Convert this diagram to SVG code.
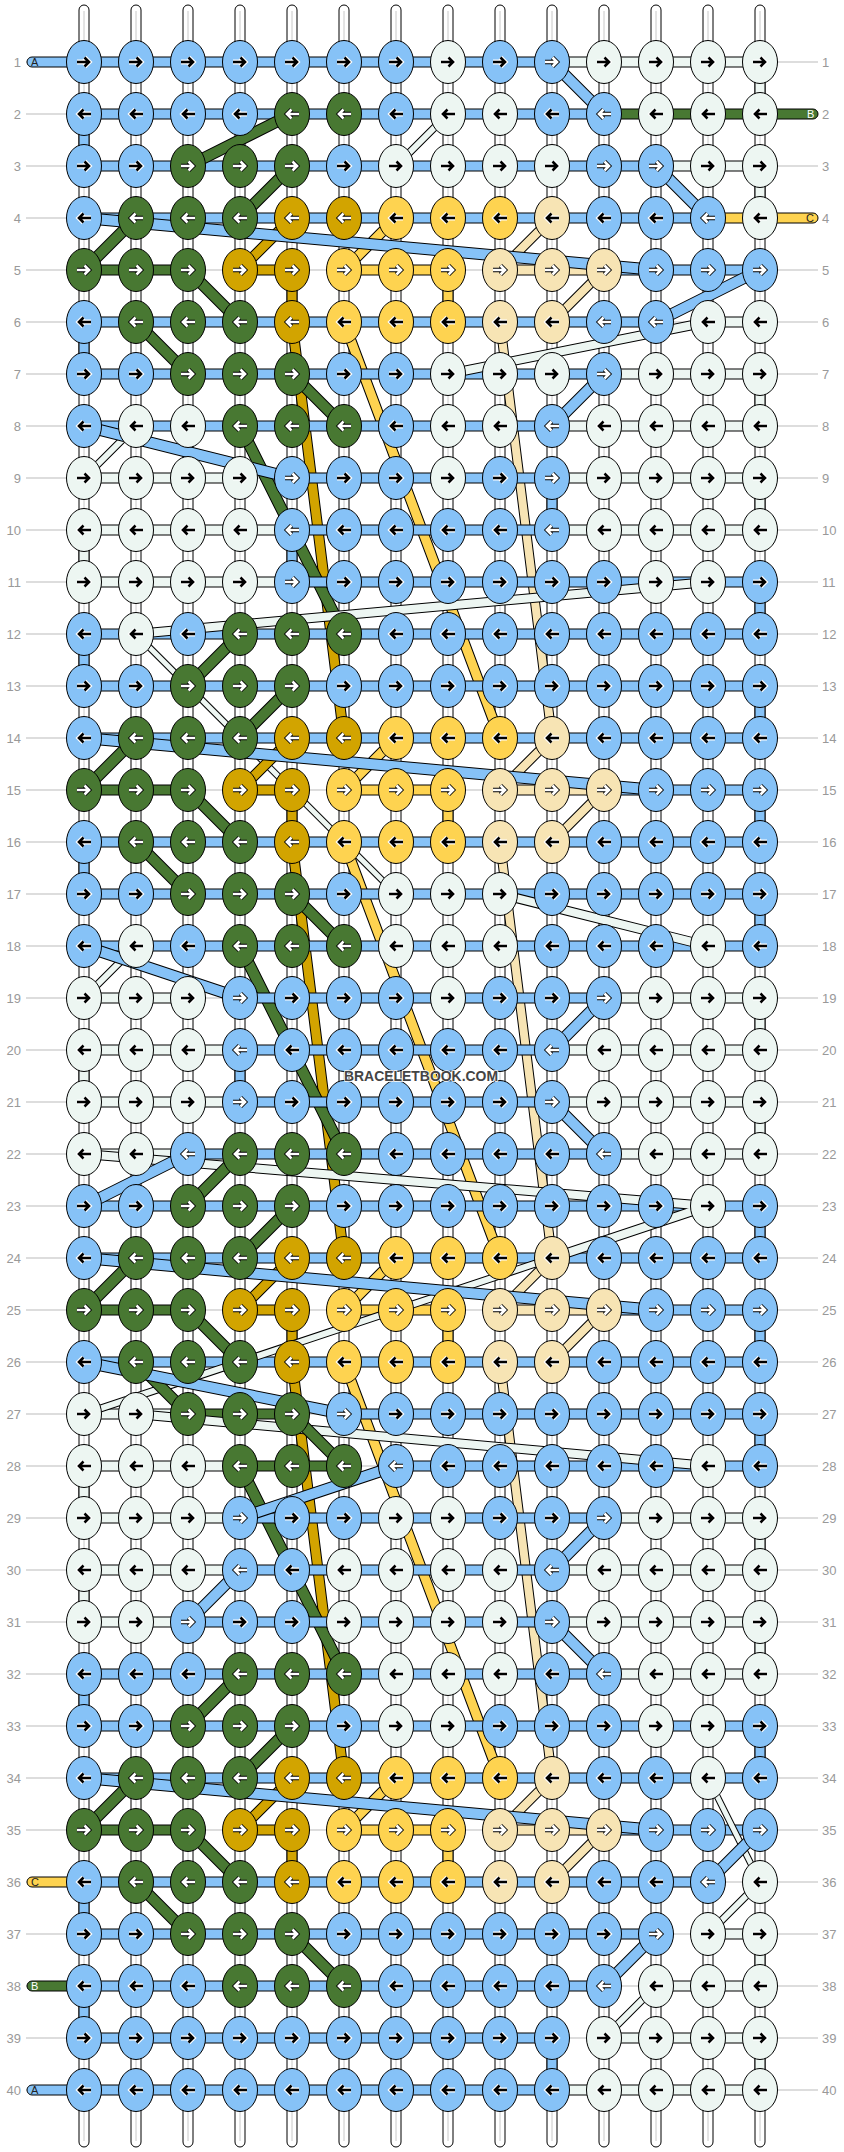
<svg xmlns="http://www.w3.org/2000/svg" width="844" height="2152" viewBox="0 0 844 2152">
<style>
.num{font-family:"Liberation Sans",Arial,sans-serif;font-size:13px;fill:#999}
.lab{font-family:"Liberation Sans",Arial,sans-serif;font-size:11px}
.cb{fill:#86c2f7}.cw{fill:#edf6f2}.cg{fill:#487832}.cd{fill:#d2a400}.cy{fill:#fed350}.cl{fill:#f7e4b4}
.o{fill:none;stroke:#000;stroke-linecap:butt}
.s{fill:none;stroke-linecap:butt}
</style>
<defs>
<ellipse id="e" rx="17.5" ry="21.5" stroke="#000" stroke-width="1"/>
<path id="a" d="M-7,0H5M0.5,-4.5L5,0L0.5,4.5" fill="none"/>
<g id="ak"><use href="#a" stroke="#fff" stroke-width="5"/><use href="#a" stroke="#000" stroke-width="2.6"/></g>
<g id="aw"><use href="#a" stroke="#000" stroke-width="4.4"/><use href="#a" stroke="#fff" stroke-width="2.7"/></g>
<g id="bR"><use href="#e" fill="#86c2f7"/><use href="#ak"/></g>
<g id="bL"><use href="#e" fill="#86c2f7"/><use href="#ak" transform="scale(-1,1)"/></g>
<g id="bRw"><use href="#e" fill="#86c2f7"/><use href="#aw"/></g>
<g id="bLw"><use href="#e" fill="#86c2f7"/><use href="#aw" transform="scale(-1,1)"/></g>
<g id="gR"><use href="#e" fill="#487832"/><use href="#aw"/></g>
<g id="gL"><use href="#e" fill="#487832"/><use href="#aw" transform="scale(-1,1)"/></g>
<g id="dR"><use href="#e" fill="#d2a400"/><use href="#aw"/></g>
<g id="dL"><use href="#e" fill="#d2a400"/><use href="#aw" transform="scale(-1,1)"/></g>
<g id="yRw"><use href="#e" fill="#fed350"/><use href="#aw"/></g>
<g id="yL"><use href="#e" fill="#fed350"/><use href="#ak" transform="scale(-1,1)"/></g>
<g id="lRw"><use href="#e" fill="#f7e4b4"/><use href="#aw"/></g>
<g id="lL"><use href="#e" fill="#f7e4b4"/><use href="#ak" transform="scale(-1,1)"/></g>
<g id="wR"><use href="#e" fill="#edf6f2"/><use href="#ak"/></g>
<g id="wL"><use href="#e" fill="#edf6f2"/><use href="#ak" transform="scale(-1,1)"/></g>
</defs>
<rect width="844" height="2152" fill="#fff"/>
<g id="rowlines" fill="none" stroke="#bbb" stroke-width="1">
<path d="M26 62H818M26 114H818M26 166H818M26 218H818M26 270H818M26 322H818M26 374H818M26 426H818M26 478H818M26 530H818M26 582H818M26 634H818M26 686H818M26 738H818M26 790H818M26 842H818M26 894H818M26 946H818M26 998H818M26 1050H818M26 1102H818M26 1154H818M26 1206H818M26 1258H818M26 1310H818M26 1362H818M26 1414H818M26 1466H818M26 1518H818M26 1570H818M26 1622H818M26 1674H818M26 1726H818M26 1778H818M26 1830H818M26 1882H818M26 1934H818M26 1986H818M26 2038H818M26 2090H818"/>
</g>
<g id="rownumbers" class="num">
<g text-anchor="end">
<text x="21" y="67">1</text><text x="21" y="119">2</text><text x="21" y="171">3</text><text x="21" y="223">4</text><text x="21" y="275">5</text><text x="21" y="327">6</text><text x="21" y="379">7</text><text x="21" y="431">8</text><text x="21" y="483">9</text><text x="21" y="535">10</text><text x="21" y="587">11</text><text x="21" y="639">12</text><text x="21" y="691">13</text><text x="21" y="743">14</text><text x="21" y="795">15</text><text x="21" y="847">16</text><text x="21" y="899">17</text><text x="21" y="951">18</text><text x="21" y="1003">19</text><text x="21" y="1055">20</text><text x="21" y="1107">21</text><text x="21" y="1159">22</text><text x="21" y="1211">23</text><text x="21" y="1263">24</text><text x="21" y="1315">25</text><text x="21" y="1367">26</text><text x="21" y="1419">27</text><text x="21" y="1471">28</text><text x="21" y="1523">29</text><text x="21" y="1575">30</text><text x="21" y="1627">31</text><text x="21" y="1679">32</text><text x="21" y="1731">33</text><text x="21" y="1783">34</text><text x="21" y="1835">35</text><text x="21" y="1887">36</text><text x="21" y="1939">37</text><text x="21" y="1991">38</text><text x="21" y="2043">39</text><text x="21" y="2095">40</text>
</g>
<g>
<text x="822" y="67">1</text><text x="822" y="119">2</text><text x="822" y="171">3</text><text x="822" y="223">4</text><text x="822" y="275">5</text><text x="822" y="327">6</text><text x="822" y="379">7</text><text x="822" y="431">8</text><text x="822" y="483">9</text><text x="822" y="535">10</text><text x="822" y="587">11</text><text x="822" y="639">12</text><text x="822" y="691">13</text><text x="822" y="743">14</text><text x="822" y="795">15</text><text x="822" y="847">16</text><text x="822" y="899">17</text><text x="822" y="951">18</text><text x="822" y="1003">19</text><text x="822" y="1055">20</text><text x="822" y="1107">21</text><text x="822" y="1159">22</text><text x="822" y="1211">23</text><text x="822" y="1263">24</text><text x="822" y="1315">25</text><text x="822" y="1367">26</text><text x="822" y="1419">27</text><text x="822" y="1471">28</text><text x="822" y="1523">29</text><text x="822" y="1575">30</text><text x="822" y="1627">31</text><text x="822" y="1679">32</text><text x="822" y="1731">33</text><text x="822" y="1783">34</text><text x="822" y="1835">35</text><text x="822" y="1887">36</text><text x="822" y="1939">37</text><text x="822" y="1991">38</text><text x="822" y="2043">39</text><text x="822" y="2095">40</text>
</g>
</g>
<g id="warps">
<g fill="#fff" stroke="#000" stroke-width="1">
<rect x="79" y="5" width="10" height="2142" rx="5"/><rect x="131" y="5" width="10" height="2142" rx="5"/><rect x="183" y="5" width="10" height="2142" rx="5"/><rect x="235" y="5" width="10" height="2142" rx="5"/><rect x="287" y="5" width="10" height="2142" rx="5"/><rect x="339" y="5" width="10" height="2142" rx="5"/><rect x="391" y="5" width="10" height="2142" rx="5"/><rect x="443" y="5" width="10" height="2142" rx="5"/><rect x="495" y="5" width="10" height="2142" rx="5"/><rect x="547" y="5" width="10" height="2142" rx="5"/><rect x="599" y="5" width="10" height="2142" rx="5"/><rect x="651" y="5" width="10" height="2142" rx="5"/><rect x="703" y="5" width="10" height="2142" rx="5"/><rect x="755" y="5" width="10" height="2142" rx="5"/>
</g>
<path fill="none" stroke="#c8c8c8" stroke-width="1" d="M84 11V2141M136 11V2141M188 11V2141M240 11V2141M292 11V2141M344 11V2141M396 11V2141M448 11V2141M500 11V2141M552 11V2141M604 11V2141M656 11V2141M708 11V2141M760 11V2141"/>
</g>
<g id="connectors">
<g id="turns" stroke="#000" stroke-width="1">
<rect class="cb" x="79" y="132" width="10" height="16"/><rect class="cb" x="79" y="340" width="10" height="16"/><rect class="cb" x="547" y="496" width="10" height="16"/><rect class="cb" x="287" y="548" width="10" height="16"/><rect class="cb" x="755" y="600" width="10" height="16"/><rect class="cb" x="79" y="652" width="10" height="16"/><rect class="cb" x="755" y="704" width="10" height="16"/><rect class="cb" x="755" y="808" width="10" height="16"/><rect class="cb" x="79" y="860" width="10" height="16"/><rect class="cb" x="755" y="912" width="10" height="16"/><rect class="cb" x="235" y="1068" width="10" height="16"/><rect class="cb" x="755" y="1224" width="10" height="16"/><rect class="cb" x="755" y="1328" width="10" height="16"/><rect class="cb" x="755" y="1432" width="10" height="16"/><rect class="cb" x="79" y="1692" width="10" height="16"/><rect class="cb" x="755" y="1744" width="10" height="16"/><rect class="cb" x="79" y="1900" width="10" height="16"/><rect class="cb" x="79" y="2004" width="10" height="16"/><rect class="cb" x="547" y="2056" width="10" height="16"/>
<rect class="cd" x="287" y="288" width="10" height="16"/><rect class="cd" x="287" y="808" width="10" height="16"/><rect class="cd" x="287" y="1328" width="10" height="16"/><rect class="cd" x="287" y="1848" width="10" height="16"/>
<rect class="cy" x="443" y="288" width="10" height="16"/><rect class="cy" x="443" y="808" width="10" height="16"/><rect class="cy" x="443" y="1328" width="10" height="16"/><rect class="cy" x="443" y="1848" width="10" height="16"/>
<rect class="cw" x="755" y="80" width="10" height="16"/><rect class="cw" x="755" y="184" width="10" height="16"/><rect class="cw" x="755" y="392" width="10" height="16"/><rect class="cw" x="755" y="496" width="10" height="16"/><rect class="cw" x="79" y="548" width="10" height="16"/><rect class="cw" x="755" y="1016" width="10" height="16"/><rect class="cw" x="79" y="1068" width="10" height="16"/><rect class="cw" x="755" y="1120" width="10" height="16"/><rect class="cw" x="79" y="1484" width="10" height="16"/><rect class="cw" x="755" y="1536" width="10" height="16"/><rect class="cw" x="79" y="1588" width="10" height="16"/><rect class="cw" x="755" y="1640" width="10" height="16"/><rect class="cw" x="755" y="1952" width="10" height="16"/><rect class="cw" x="755" y="2056" width="10" height="16"/>
</g>
<g id="long-strands">
<path class="o" stroke-width="11" d="M292 322L344 738M292 842L344 1258M292 1362L344 1778"/>
<path class="s" stroke="#d2a400" stroke-width="9" d="M292 322L344 738M292 842L344 1258M292 1362L344 1778"/>
<path class="o" stroke-width="11" d="M344 322L500 738M344 842L500 1258M344 1362L500 1778"/>
<path class="s" stroke="#fed350" stroke-width="9" d="M344 322L500 738M344 842L500 1258M344 1362L500 1778"/>
<path class="o" stroke-width="10" d="M500 322L552 738M500 842L552 1258M500 1362L552 1778"/>
<path class="s" stroke="#f7e4b4" stroke-width="8" d="M500 322L552 738M500 842L552 1258M500 1362L552 1778"/>
<path class="o" stroke-width="7" d="M136 634L396 894"/>
<path class="s" stroke="#edf6f2" stroke-width="5" d="M136 634L396 894"/>
<path class="o" stroke-width="12" d="M240 426L344 634M240 946L344 1154M240 1466L344 1674"/>
<path class="s" stroke="#487832" stroke-width="10" d="M240 426L344 634M240 946L344 1154M240 1466L344 1674"/>
</g>
<g id="wefts" stroke="#000" stroke-width="1">
<rect class="cb" x="84" y="57" width="468" height="10"/><rect class="cw" x="552" y="57" width="208" height="10"/>
<rect class="cb" x="84" y="109" width="520" height="10"/><rect class="cg" x="604" y="109" width="156" height="10"/>
<rect class="cb" x="84" y="161" width="572" height="10"/><rect class="cw" x="656" y="161" width="104" height="10"/>
<rect class="cb" x="84" y="213" width="624" height="10"/><rect class="cy" x="708" y="213" width="52" height="10"/>
<rect class="cg" x="84" y="265" width="104" height="10"/><rect class="cd" x="240" y="265" width="52" height="10"/><rect class="cy" x="344" y="265" width="104" height="10"/><rect class="cl" x="500" y="265" width="104" height="10"/><rect class="cb" x="604" y="265" width="156" height="10"/>
<rect class="cb" x="84" y="317" width="572" height="10"/><rect class="cw" x="708" y="317" width="52" height="10"/>
<rect class="cb" x="84" y="369" width="520" height="10"/><rect class="cw" x="604" y="369" width="156" height="10"/>
<rect class="cb" x="84" y="421" width="468" height="10"/><rect class="cw" x="552" y="421" width="208" height="10"/>
<rect class="cw" x="84" y="473" width="156" height="10"/><rect class="cb" x="292" y="473" width="260" height="10"/><rect class="cw" x="552" y="473" width="208" height="10"/>
<rect class="cw" x="84" y="525" width="208" height="10"/><rect class="cb" x="292" y="525" width="260" height="10"/><rect class="cw" x="552" y="525" width="208" height="10"/>
<rect class="cw" x="84" y="577" width="208" height="10"/><rect class="cb" x="292" y="577" width="468" height="10"/>
<rect class="cb" x="84" y="629" width="676" height="10"/>
<rect class="cb" x="84" y="681" width="676" height="10"/>
<rect class="cb" x="84" y="733" width="676" height="10"/>
<rect class="cg" x="84" y="785" width="104" height="10"/><rect class="cd" x="240" y="785" width="52" height="10"/><rect class="cy" x="344" y="785" width="104" height="10"/><rect class="cl" x="500" y="785" width="104" height="10"/><rect class="cb" x="604" y="785" width="156" height="10"/>
<rect class="cb" x="84" y="837" width="676" height="10"/>
<rect class="cb" x="84" y="889" width="676" height="10"/>
<rect class="cb" x="84" y="941" width="676" height="10"/>
<rect class="cw" x="84" y="993" width="104" height="10"/><rect class="cb" x="240" y="993" width="364" height="10"/><rect class="cw" x="604" y="993" width="156" height="10"/>
<rect class="cw" x="84" y="1045" width="156" height="10"/><rect class="cb" x="240" y="1045" width="312" height="10"/><rect class="cw" x="552" y="1045" width="208" height="10"/>
<rect class="cw" x="84" y="1097" width="156" height="10"/><rect class="cb" x="240" y="1097" width="312" height="10"/><rect class="cw" x="552" y="1097" width="208" height="10"/>
<rect class="cw" x="84" y="1149" width="104" height="10"/><rect class="cb" x="188" y="1149" width="416" height="10"/><rect class="cw" x="604" y="1149" width="156" height="10"/>
<rect class="cb" x="84" y="1201" width="676" height="10"/>
<rect class="cb" x="84" y="1253" width="676" height="10"/>
<rect class="cg" x="84" y="1305" width="104" height="10"/><rect class="cd" x="240" y="1305" width="52" height="10"/><rect class="cy" x="344" y="1305" width="104" height="10"/><rect class="cl" x="500" y="1305" width="104" height="10"/><rect class="cb" x="604" y="1305" width="156" height="10"/>
<rect class="cb" x="84" y="1357" width="676" height="10"/>
<rect class="cw" x="84" y="1409" width="104" height="10"/><rect class="cg" x="188" y="1409" width="104" height="10"/><rect class="cb" x="344" y="1409" width="416" height="10"/>
<rect class="cw" x="84" y="1461" width="156" height="10"/><rect class="cg" x="240" y="1461" width="104" height="10"/><rect class="cb" x="396" y="1461" width="364" height="10"/>
<rect class="cw" x="84" y="1513" width="156" height="10"/><rect class="cb" x="240" y="1513" width="364" height="10"/><rect class="cw" x="604" y="1513" width="156" height="10"/>
<rect class="cw" x="84" y="1565" width="156" height="10"/><rect class="cb" x="240" y="1565" width="312" height="10"/><rect class="cw" x="552" y="1565" width="208" height="10"/>
<rect class="cw" x="84" y="1617" width="104" height="10"/><rect class="cb" x="188" y="1617" width="364" height="10"/><rect class="cw" x="552" y="1617" width="208" height="10"/>
<rect class="cb" x="84" y="1669" width="520" height="10"/><rect class="cw" x="604" y="1669" width="156" height="10"/>
<rect class="cb" x="84" y="1721" width="676" height="10"/>
<rect class="cb" x="84" y="1773" width="676" height="10"/>
<rect class="cg" x="84" y="1825" width="104" height="10"/><rect class="cd" x="240" y="1825" width="52" height="10"/><rect class="cy" x="344" y="1825" width="104" height="10"/><rect class="cl" x="500" y="1825" width="104" height="10"/><rect class="cb" x="604" y="1825" width="156" height="10"/>
<rect class="cb" x="84" y="1877" width="624" height="10"/>
<rect class="cb" x="84" y="1929" width="572" height="10"/><rect class="cw" x="708" y="1929" width="52" height="10"/>
<rect class="cb" x="84" y="1981" width="520" height="10"/><rect class="cw" x="656" y="1981" width="104" height="10"/>
<rect class="cb" x="84" y="2033" width="468" height="10"/><rect class="cw" x="604" y="2033" width="156" height="10"/>
<rect class="cb" x="84" y="2085" width="468" height="10"/><rect class="cw" x="552" y="2085" width="208" height="10"/>
</g>
<g id="diagonals">
<path class="o" stroke-width="10" d="M708 322L448 374M708 582L136 634M500 894L708 946M84 1154L708 1206M708 1206L552 1258M136 1414L708 1466"/>
<path class="s" stroke="#edf6f2" stroke-width="8" d="M708 322L448 374M708 582L136 634M500 894L708 946M84 1154L708 1206M708 1206L552 1258M136 1414L708 1466"/>
<path class="o" stroke-width="8" d="M448 114L396 166M136 426L84 478M136 946L84 998M552 1258L84 1414M760 1882L708 1934M656 1986L604 2038"/>
<path class="s" stroke="#edf6f2" stroke-width="6" d="M448 114L396 166M136 426L84 478M136 946L84 998M552 1258L84 1414M760 1882L708 1934M656 1986L604 2038"/>
<path class="o" stroke-width="7" d="M708 1778L760 1882"/>
<path class="s" stroke="#edf6f2" stroke-width="5" d="M708 1778L760 1882"/>
<path class="o" stroke-width="11" d="M240 270L292 218M240 790L292 738M240 1310L292 1258M240 1830L292 1778"/>
<path class="s" stroke="#d2a400" stroke-width="9" d="M240 270L292 218M240 790L292 738M240 1310L292 1258M240 1830L292 1778"/>
<path class="o" stroke-width="11" d="M344 270L396 218M344 790L396 738M344 1310L396 1258M344 1830L396 1778"/>
<path class="s" stroke="#fed350" stroke-width="9" d="M344 270L396 218M344 790L396 738M344 1310L396 1258M344 1830L396 1778"/>
<path class="o" stroke-width="10" d="M500 270L552 218M604 270L552 322M500 790L552 738M604 790L552 842M500 1310L552 1258M604 1310L552 1362M500 1830L552 1778M604 1830L552 1882"/>
<path class="s" stroke="#f7e4b4" stroke-width="8" d="M500 270L552 218M604 270L552 322M500 790L552 738M604 790L552 842M500 1310L552 1258M604 1310L552 1362M500 1830L552 1778M604 1830L552 1882"/>
<path class="o" stroke-width="12" d="M188 166L292 114M240 218L292 166M84 270L136 218M188 270L240 322M136 322L188 374M292 374L344 426M188 686L240 634M240 738L292 686M84 790L136 738M188 790L240 842M136 842L188 894M292 894L344 946M188 1206L240 1154M240 1258L292 1206M84 1310L136 1258M188 1310L240 1362M136 1362L188 1414M292 1414L344 1466M188 1726L240 1674M240 1778L292 1726M84 1830L136 1778M188 1830L240 1882M136 1882L188 1934M292 1934L344 1986"/>
<path class="s" stroke="#487832" stroke-width="10" d="M188 166L292 114M240 218L292 166M84 270L136 218M188 270L240 322M136 322L188 374M292 374L344 426M188 686L240 634M240 738L292 686M84 790L136 738M188 790L240 842M136 842L188 894M292 894L344 946M188 1206L240 1154M240 1258L292 1206M84 1310L136 1258M188 1310L240 1362M136 1362L188 1414M292 1414L344 1466M188 1726L240 1674M240 1778L292 1726M84 1830L136 1778M188 1830L240 1882M136 1882L188 1934M292 1934L344 1986"/>
<path class="o" stroke-width="12" d="M552 62L604 114M656 166L708 218M84 218L656 270M760 270L656 322M604 374L552 426M84 426L292 478M84 738L656 790M84 946L240 998M604 998L552 1050M552 1102L604 1154M188 1154L84 1206M84 1258L656 1310M84 1362L344 1414M396 1466L240 1518M604 1518L552 1570M240 1570L188 1622M552 1622L604 1674M84 1778L656 1830M760 1830L708 1882M656 1934L604 1986"/>
<path class="s" stroke="#86c2f7" stroke-width="10" d="M552 62L604 114M656 166L708 218M84 218L656 270M760 270L656 322M604 374L552 426M84 426L292 478M84 738L656 790M84 946L240 998M604 998L552 1050M552 1102L604 1154M188 1154L84 1206M84 1258L656 1310M84 1362L344 1414M396 1466L240 1518M604 1518L552 1570M240 1570L188 1622M552 1622L604 1674M84 1778L656 1830M760 1830L708 1882M656 1934L604 1986"/>
</g>
<g id="string-ends" stroke="#000" stroke-width="1">
<rect class="cb" x="27" y="57" width="62" height="10" rx="5"/>
<rect class="cg" x="755" y="109" width="63" height="10" rx="5"/>
<rect class="cy" x="755" y="213" width="63" height="10" rx="5"/>
<rect class="cy" x="27" y="1877" width="62" height="10" rx="5"/>
<rect class="cg" x="27" y="1981" width="62" height="10" rx="5"/>
<rect class="cb" x="27" y="2085" width="62" height="10" rx="5"/>
</g>
<g id="string-labels" class="lab">
<text x="31" y="66" fill="#222">A</text>
<text x="807" y="118" fill="#fff">B</text>
<text x="806" y="222" fill="#222">C</text>
<text x="31" y="1886" fill="#222">C</text>
<text x="31" y="1990" fill="#fff">B</text>
<text x="31" y="2094" fill="#222">A</text>
</g>
</g>
<g id="knots">
<g id="row1" transform="translate(0,62)"><g id="k1-1"><use href="#bR" x="84"/></g><g id="k1-2"><use href="#bR" x="136"/></g><g id="k1-3"><use href="#bR" x="188"/></g><g id="k1-4"><use href="#bR" x="240"/></g><g id="k1-5"><use href="#bR" x="292"/></g><g id="k1-6"><use href="#bR" x="344"/></g><g id="k1-7"><use href="#bR" x="396"/></g><g id="k1-8"><use href="#wR" x="448"/></g><g id="k1-9"><use href="#bR" x="500"/></g><g id="k1-10"><use href="#bRw" x="552"/></g><g id="k1-11"><use href="#wR" x="604"/></g><g id="k1-12"><use href="#wR" x="656"/></g><g id="k1-13"><use href="#wR" x="708"/></g><g id="k1-14"><use href="#wR" x="760"/></g></g>
<g id="row2" transform="translate(0,114)"><g id="k2-1"><use href="#bL" x="84"/></g><g id="k2-2"><use href="#bL" x="136"/></g><g id="k2-3"><use href="#bL" x="188"/></g><g id="k2-4"><use href="#bL" x="240"/></g><g id="k2-5"><use href="#gL" x="292"/></g><g id="k2-6"><use href="#gL" x="344"/></g><g id="k2-7"><use href="#bL" x="396"/></g><g id="k2-8"><use href="#wL" x="448"/></g><g id="k2-9"><use href="#wL" x="500"/></g><g id="k2-10"><use href="#bL" x="552"/></g><g id="k2-11"><use href="#bLw" x="604"/></g><g id="k2-12"><use href="#wL" x="656"/></g><g id="k2-13"><use href="#wL" x="708"/></g><g id="k2-14"><use href="#wL" x="760"/></g></g>
<g id="row3" transform="translate(0,166)"><g id="k3-1"><use href="#bR" x="84"/></g><g id="k3-2"><use href="#bR" x="136"/></g><g id="k3-3"><use href="#gR" x="188"/></g><g id="k3-4"><use href="#gR" x="240"/></g><g id="k3-5"><use href="#gR" x="292"/></g><g id="k3-6"><use href="#bR" x="344"/></g><g id="k3-7"><use href="#wR" x="396"/></g><g id="k3-8"><use href="#wR" x="448"/></g><g id="k3-9"><use href="#wR" x="500"/></g><g id="k3-10"><use href="#wR" x="552"/></g><g id="k3-11"><use href="#bRw" x="604"/></g><g id="k3-12"><use href="#bRw" x="656"/></g><g id="k3-13"><use href="#wR" x="708"/></g><g id="k3-14"><use href="#wR" x="760"/></g></g>
<g id="row4" transform="translate(0,218)"><g id="k4-1"><use href="#bL" x="84"/></g><g id="k4-2"><use href="#gL" x="136"/></g><g id="k4-3"><use href="#gL" x="188"/></g><g id="k4-4"><use href="#gL" x="240"/></g><g id="k4-5"><use href="#dL" x="292"/></g><g id="k4-6"><use href="#dL" x="344"/></g><g id="k4-7"><use href="#yL" x="396"/></g><g id="k4-8"><use href="#yL" x="448"/></g><g id="k4-9"><use href="#yL" x="500"/></g><g id="k4-10"><use href="#lL" x="552"/></g><g id="k4-11"><use href="#bL" x="604"/></g><g id="k4-12"><use href="#bL" x="656"/></g><g id="k4-13"><use href="#bLw" x="708"/></g><g id="k4-14"><use href="#wL" x="760"/></g></g>
<g id="row5" transform="translate(0,270)"><g id="k5-1"><use href="#gR" x="84"/></g><g id="k5-2"><use href="#gR" x="136"/></g><g id="k5-3"><use href="#gR" x="188"/></g><g id="k5-4"><use href="#dR" x="240"/></g><g id="k5-5"><use href="#dR" x="292"/></g><g id="k5-6"><use href="#yRw" x="344"/></g><g id="k5-7"><use href="#yRw" x="396"/></g><g id="k5-8"><use href="#yRw" x="448"/></g><g id="k5-9"><use href="#lRw" x="500"/></g><g id="k5-10"><use href="#lRw" x="552"/></g><g id="k5-11"><use href="#lRw" x="604"/></g><g id="k5-12"><use href="#bRw" x="656"/></g><g id="k5-13"><use href="#bRw" x="708"/></g><g id="k5-14"><use href="#bRw" x="760"/></g></g>
<g id="row6" transform="translate(0,322)"><g id="k6-1"><use href="#bL" x="84"/></g><g id="k6-2"><use href="#gL" x="136"/></g><g id="k6-3"><use href="#gL" x="188"/></g><g id="k6-4"><use href="#gL" x="240"/></g><g id="k6-5"><use href="#dL" x="292"/></g><g id="k6-6"><use href="#yL" x="344"/></g><g id="k6-7"><use href="#yL" x="396"/></g><g id="k6-8"><use href="#yL" x="448"/></g><g id="k6-9"><use href="#lL" x="500"/></g><g id="k6-10"><use href="#lL" x="552"/></g><g id="k6-11"><use href="#bLw" x="604"/></g><g id="k6-12"><use href="#bLw" x="656"/></g><g id="k6-13"><use href="#wL" x="708"/></g><g id="k6-14"><use href="#wL" x="760"/></g></g>
<g id="row7" transform="translate(0,374)"><g id="k7-1"><use href="#bR" x="84"/></g><g id="k7-2"><use href="#bR" x="136"/></g><g id="k7-3"><use href="#gR" x="188"/></g><g id="k7-4"><use href="#gR" x="240"/></g><g id="k7-5"><use href="#gR" x="292"/></g><g id="k7-6"><use href="#bR" x="344"/></g><g id="k7-7"><use href="#bR" x="396"/></g><g id="k7-8"><use href="#wR" x="448"/></g><g id="k7-9"><use href="#wR" x="500"/></g><g id="k7-10"><use href="#wR" x="552"/></g><g id="k7-11"><use href="#bRw" x="604"/></g><g id="k7-12"><use href="#wR" x="656"/></g><g id="k7-13"><use href="#wR" x="708"/></g><g id="k7-14"><use href="#wR" x="760"/></g></g>
<g id="row8" transform="translate(0,426)"><g id="k8-1"><use href="#bL" x="84"/></g><g id="k8-2"><use href="#wL" x="136"/></g><g id="k8-3"><use href="#wL" x="188"/></g><g id="k8-4"><use href="#gL" x="240"/></g><g id="k8-5"><use href="#gL" x="292"/></g><g id="k8-6"><use href="#gL" x="344"/></g><g id="k8-7"><use href="#bL" x="396"/></g><g id="k8-8"><use href="#wL" x="448"/></g><g id="k8-9"><use href="#wL" x="500"/></g><g id="k8-10"><use href="#bLw" x="552"/></g><g id="k8-11"><use href="#wL" x="604"/></g><g id="k8-12"><use href="#wL" x="656"/></g><g id="k8-13"><use href="#wL" x="708"/></g><g id="k8-14"><use href="#wL" x="760"/></g></g>
<g id="row9" transform="translate(0,478)"><g id="k9-1"><use href="#wR" x="84"/></g><g id="k9-2"><use href="#wR" x="136"/></g><g id="k9-3"><use href="#wR" x="188"/></g><g id="k9-4"><use href="#wR" x="240"/></g><g id="k9-5"><use href="#bRw" x="292"/></g><g id="k9-6"><use href="#bR" x="344"/></g><g id="k9-7"><use href="#bR" x="396"/></g><g id="k9-8"><use href="#wR" x="448"/></g><g id="k9-9"><use href="#bR" x="500"/></g><g id="k9-10"><use href="#bRw" x="552"/></g><g id="k9-11"><use href="#wR" x="604"/></g><g id="k9-12"><use href="#wR" x="656"/></g><g id="k9-13"><use href="#wR" x="708"/></g><g id="k9-14"><use href="#wR" x="760"/></g></g>
<g id="row10" transform="translate(0,530)"><g id="k10-1"><use href="#wL" x="84"/></g><g id="k10-2"><use href="#wL" x="136"/></g><g id="k10-3"><use href="#wL" x="188"/></g><g id="k10-4"><use href="#wL" x="240"/></g><g id="k10-5"><use href="#bLw" x="292"/></g><g id="k10-6"><use href="#bL" x="344"/></g><g id="k10-7"><use href="#bL" x="396"/></g><g id="k10-8"><use href="#bL" x="448"/></g><g id="k10-9"><use href="#bL" x="500"/></g><g id="k10-10"><use href="#bLw" x="552"/></g><g id="k10-11"><use href="#wL" x="604"/></g><g id="k10-12"><use href="#wL" x="656"/></g><g id="k10-13"><use href="#wL" x="708"/></g><g id="k10-14"><use href="#wL" x="760"/></g></g>
<g id="row11" transform="translate(0,582)"><g id="k11-1"><use href="#wR" x="84"/></g><g id="k11-2"><use href="#wR" x="136"/></g><g id="k11-3"><use href="#wR" x="188"/></g><g id="k11-4"><use href="#wR" x="240"/></g><g id="k11-5"><use href="#bRw" x="292"/></g><g id="k11-6"><use href="#bR" x="344"/></g><g id="k11-7"><use href="#bR" x="396"/></g><g id="k11-8"><use href="#bR" x="448"/></g><g id="k11-9"><use href="#bR" x="500"/></g><g id="k11-10"><use href="#bR" x="552"/></g><g id="k11-11"><use href="#bR" x="604"/></g><g id="k11-12"><use href="#wR" x="656"/></g><g id="k11-13"><use href="#wR" x="708"/></g><g id="k11-14"><use href="#bR" x="760"/></g></g>
<g id="row12" transform="translate(0,634)"><g id="k12-1"><use href="#bL" x="84"/></g><g id="k12-2"><use href="#wL" x="136"/></g><g id="k12-3"><use href="#bL" x="188"/></g><g id="k12-4"><use href="#gL" x="240"/></g><g id="k12-5"><use href="#gL" x="292"/></g><g id="k12-6"><use href="#gL" x="344"/></g><g id="k12-7"><use href="#bL" x="396"/></g><g id="k12-8"><use href="#bL" x="448"/></g><g id="k12-9"><use href="#bL" x="500"/></g><g id="k12-10"><use href="#bL" x="552"/></g><g id="k12-11"><use href="#bL" x="604"/></g><g id="k12-12"><use href="#bL" x="656"/></g><g id="k12-13"><use href="#bL" x="708"/></g><g id="k12-14"><use href="#bL" x="760"/></g></g>
<g id="row13" transform="translate(0,686)"><g id="k13-1"><use href="#bR" x="84"/></g><g id="k13-2"><use href="#bR" x="136"/></g><g id="k13-3"><use href="#gR" x="188"/></g><g id="k13-4"><use href="#gR" x="240"/></g><g id="k13-5"><use href="#gR" x="292"/></g><g id="k13-6"><use href="#bR" x="344"/></g><g id="k13-7"><use href="#bR" x="396"/></g><g id="k13-8"><use href="#bR" x="448"/></g><g id="k13-9"><use href="#bR" x="500"/></g><g id="k13-10"><use href="#bR" x="552"/></g><g id="k13-11"><use href="#bR" x="604"/></g><g id="k13-12"><use href="#bR" x="656"/></g><g id="k13-13"><use href="#bR" x="708"/></g><g id="k13-14"><use href="#bR" x="760"/></g></g>
<g id="row14" transform="translate(0,738)"><g id="k14-1"><use href="#bL" x="84"/></g><g id="k14-2"><use href="#gL" x="136"/></g><g id="k14-3"><use href="#gL" x="188"/></g><g id="k14-4"><use href="#gL" x="240"/></g><g id="k14-5"><use href="#dL" x="292"/></g><g id="k14-6"><use href="#dL" x="344"/></g><g id="k14-7"><use href="#yL" x="396"/></g><g id="k14-8"><use href="#yL" x="448"/></g><g id="k14-9"><use href="#yL" x="500"/></g><g id="k14-10"><use href="#lL" x="552"/></g><g id="k14-11"><use href="#bL" x="604"/></g><g id="k14-12"><use href="#bL" x="656"/></g><g id="k14-13"><use href="#bL" x="708"/></g><g id="k14-14"><use href="#bL" x="760"/></g></g>
<g id="row15" transform="translate(0,790)"><g id="k15-1"><use href="#gR" x="84"/></g><g id="k15-2"><use href="#gR" x="136"/></g><g id="k15-3"><use href="#gR" x="188"/></g><g id="k15-4"><use href="#dR" x="240"/></g><g id="k15-5"><use href="#dR" x="292"/></g><g id="k15-6"><use href="#yRw" x="344"/></g><g id="k15-7"><use href="#yRw" x="396"/></g><g id="k15-8"><use href="#yRw" x="448"/></g><g id="k15-9"><use href="#lRw" x="500"/></g><g id="k15-10"><use href="#lRw" x="552"/></g><g id="k15-11"><use href="#lRw" x="604"/></g><g id="k15-12"><use href="#bRw" x="656"/></g><g id="k15-13"><use href="#bRw" x="708"/></g><g id="k15-14"><use href="#bRw" x="760"/></g></g>
<g id="row16" transform="translate(0,842)"><g id="k16-1"><use href="#bL" x="84"/></g><g id="k16-2"><use href="#gL" x="136"/></g><g id="k16-3"><use href="#gL" x="188"/></g><g id="k16-4"><use href="#gL" x="240"/></g><g id="k16-5"><use href="#dL" x="292"/></g><g id="k16-6"><use href="#yL" x="344"/></g><g id="k16-7"><use href="#yL" x="396"/></g><g id="k16-8"><use href="#yL" x="448"/></g><g id="k16-9"><use href="#lL" x="500"/></g><g id="k16-10"><use href="#lL" x="552"/></g><g id="k16-11"><use href="#bL" x="604"/></g><g id="k16-12"><use href="#bL" x="656"/></g><g id="k16-13"><use href="#bL" x="708"/></g><g id="k16-14"><use href="#bL" x="760"/></g></g>
<g id="row17" transform="translate(0,894)"><g id="k17-1"><use href="#bR" x="84"/></g><g id="k17-2"><use href="#bR" x="136"/></g><g id="k17-3"><use href="#gR" x="188"/></g><g id="k17-4"><use href="#gR" x="240"/></g><g id="k17-5"><use href="#gR" x="292"/></g><g id="k17-6"><use href="#bR" x="344"/></g><g id="k17-7"><use href="#wR" x="396"/></g><g id="k17-8"><use href="#wR" x="448"/></g><g id="k17-9"><use href="#wR" x="500"/></g><g id="k17-10"><use href="#bR" x="552"/></g><g id="k17-11"><use href="#bR" x="604"/></g><g id="k17-12"><use href="#bR" x="656"/></g><g id="k17-13"><use href="#bR" x="708"/></g><g id="k17-14"><use href="#bR" x="760"/></g></g>
<g id="row18" transform="translate(0,946)"><g id="k18-1"><use href="#bL" x="84"/></g><g id="k18-2"><use href="#wL" x="136"/></g><g id="k18-3"><use href="#bL" x="188"/></g><g id="k18-4"><use href="#gL" x="240"/></g><g id="k18-5"><use href="#gL" x="292"/></g><g id="k18-6"><use href="#gL" x="344"/></g><g id="k18-7"><use href="#wL" x="396"/></g><g id="k18-8"><use href="#wL" x="448"/></g><g id="k18-9"><use href="#wL" x="500"/></g><g id="k18-10"><use href="#bL" x="552"/></g><g id="k18-11"><use href="#bL" x="604"/></g><g id="k18-12"><use href="#bL" x="656"/></g><g id="k18-13"><use href="#wL" x="708"/></g><g id="k18-14"><use href="#bL" x="760"/></g></g>
<g id="row19" transform="translate(0,998)"><g id="k19-1"><use href="#wR" x="84"/></g><g id="k19-2"><use href="#wR" x="136"/></g><g id="k19-3"><use href="#wR" x="188"/></g><g id="k19-4"><use href="#bRw" x="240"/></g><g id="k19-5"><use href="#bR" x="292"/></g><g id="k19-6"><use href="#bR" x="344"/></g><g id="k19-7"><use href="#bR" x="396"/></g><g id="k19-8"><use href="#wR" x="448"/></g><g id="k19-9"><use href="#bR" x="500"/></g><g id="k19-10"><use href="#bR" x="552"/></g><g id="k19-11"><use href="#bRw" x="604"/></g><g id="k19-12"><use href="#wR" x="656"/></g><g id="k19-13"><use href="#wR" x="708"/></g><g id="k19-14"><use href="#wR" x="760"/></g></g>
<g id="row20" transform="translate(0,1050)"><g id="k20-1"><use href="#wL" x="84"/></g><g id="k20-2"><use href="#wL" x="136"/></g><g id="k20-3"><use href="#wL" x="188"/></g><g id="k20-4"><use href="#bLw" x="240"/></g><g id="k20-5"><use href="#bL" x="292"/></g><g id="k20-6"><use href="#bL" x="344"/></g><g id="k20-7"><use href="#bL" x="396"/></g><g id="k20-8"><use href="#bL" x="448"/></g><g id="k20-9"><use href="#bL" x="500"/></g><g id="k20-10"><use href="#bLw" x="552"/></g><g id="k20-11"><use href="#wL" x="604"/></g><g id="k20-12"><use href="#wL" x="656"/></g><g id="k20-13"><use href="#wL" x="708"/></g><g id="k20-14"><use href="#wL" x="760"/></g></g>
<g id="row21" transform="translate(0,1102)"><g id="k21-1"><use href="#wR" x="84"/></g><g id="k21-2"><use href="#wR" x="136"/></g><g id="k21-3"><use href="#wR" x="188"/></g><g id="k21-4"><use href="#bRw" x="240"/></g><g id="k21-5"><use href="#bR" x="292"/></g><g id="k21-6"><use href="#bR" x="344"/></g><g id="k21-7"><use href="#bR" x="396"/></g><g id="k21-8"><use href="#bR" x="448"/></g><g id="k21-9"><use href="#bR" x="500"/></g><g id="k21-10"><use href="#bRw" x="552"/></g><g id="k21-11"><use href="#wR" x="604"/></g><g id="k21-12"><use href="#wR" x="656"/></g><g id="k21-13"><use href="#wR" x="708"/></g><g id="k21-14"><use href="#wR" x="760"/></g></g>
<g id="row22" transform="translate(0,1154)"><g id="k22-1"><use href="#wL" x="84"/></g><g id="k22-2"><use href="#wL" x="136"/></g><g id="k22-3"><use href="#bLw" x="188"/></g><g id="k22-4"><use href="#gL" x="240"/></g><g id="k22-5"><use href="#gL" x="292"/></g><g id="k22-6"><use href="#gL" x="344"/></g><g id="k22-7"><use href="#bL" x="396"/></g><g id="k22-8"><use href="#bL" x="448"/></g><g id="k22-9"><use href="#bL" x="500"/></g><g id="k22-10"><use href="#bL" x="552"/></g><g id="k22-11"><use href="#bLw" x="604"/></g><g id="k22-12"><use href="#wL" x="656"/></g><g id="k22-13"><use href="#wL" x="708"/></g><g id="k22-14"><use href="#wL" x="760"/></g></g>
<g id="row23" transform="translate(0,1206)"><g id="k23-1"><use href="#bR" x="84"/></g><g id="k23-2"><use href="#bR" x="136"/></g><g id="k23-3"><use href="#gR" x="188"/></g><g id="k23-4"><use href="#gR" x="240"/></g><g id="k23-5"><use href="#gR" x="292"/></g><g id="k23-6"><use href="#bR" x="344"/></g><g id="k23-7"><use href="#bR" x="396"/></g><g id="k23-8"><use href="#bR" x="448"/></g><g id="k23-9"><use href="#bR" x="500"/></g><g id="k23-10"><use href="#bR" x="552"/></g><g id="k23-11"><use href="#bR" x="604"/></g><g id="k23-12"><use href="#bR" x="656"/></g><g id="k23-13"><use href="#wR" x="708"/></g><g id="k23-14"><use href="#bR" x="760"/></g></g>
<g id="row24" transform="translate(0,1258)"><g id="k24-1"><use href="#bL" x="84"/></g><g id="k24-2"><use href="#gL" x="136"/></g><g id="k24-3"><use href="#gL" x="188"/></g><g id="k24-4"><use href="#gL" x="240"/></g><g id="k24-5"><use href="#dL" x="292"/></g><g id="k24-6"><use href="#dL" x="344"/></g><g id="k24-7"><use href="#yL" x="396"/></g><g id="k24-8"><use href="#yL" x="448"/></g><g id="k24-9"><use href="#yL" x="500"/></g><g id="k24-10"><use href="#lL" x="552"/></g><g id="k24-11"><use href="#bL" x="604"/></g><g id="k24-12"><use href="#bL" x="656"/></g><g id="k24-13"><use href="#bL" x="708"/></g><g id="k24-14"><use href="#bL" x="760"/></g></g>
<g id="row25" transform="translate(0,1310)"><g id="k25-1"><use href="#gR" x="84"/></g><g id="k25-2"><use href="#gR" x="136"/></g><g id="k25-3"><use href="#gR" x="188"/></g><g id="k25-4"><use href="#dR" x="240"/></g><g id="k25-5"><use href="#dR" x="292"/></g><g id="k25-6"><use href="#yRw" x="344"/></g><g id="k25-7"><use href="#yRw" x="396"/></g><g id="k25-8"><use href="#yRw" x="448"/></g><g id="k25-9"><use href="#lRw" x="500"/></g><g id="k25-10"><use href="#lRw" x="552"/></g><g id="k25-11"><use href="#lRw" x="604"/></g><g id="k25-12"><use href="#bRw" x="656"/></g><g id="k25-13"><use href="#bRw" x="708"/></g><g id="k25-14"><use href="#bRw" x="760"/></g></g>
<g id="row26" transform="translate(0,1362)"><g id="k26-1"><use href="#bL" x="84"/></g><g id="k26-2"><use href="#gL" x="136"/></g><g id="k26-3"><use href="#gL" x="188"/></g><g id="k26-4"><use href="#gL" x="240"/></g><g id="k26-5"><use href="#dL" x="292"/></g><g id="k26-6"><use href="#yL" x="344"/></g><g id="k26-7"><use href="#yL" x="396"/></g><g id="k26-8"><use href="#yL" x="448"/></g><g id="k26-9"><use href="#lL" x="500"/></g><g id="k26-10"><use href="#lL" x="552"/></g><g id="k26-11"><use href="#bL" x="604"/></g><g id="k26-12"><use href="#bL" x="656"/></g><g id="k26-13"><use href="#bL" x="708"/></g><g id="k26-14"><use href="#bL" x="760"/></g></g>
<g id="row27" transform="translate(0,1414)"><g id="k27-1"><use href="#wR" x="84"/></g><g id="k27-2"><use href="#wR" x="136"/></g><g id="k27-3"><use href="#gR" x="188"/></g><g id="k27-4"><use href="#gR" x="240"/></g><g id="k27-5"><use href="#gR" x="292"/></g><g id="k27-6"><use href="#bRw" x="344"/></g><g id="k27-7"><use href="#bR" x="396"/></g><g id="k27-8"><use href="#bR" x="448"/></g><g id="k27-9"><use href="#bR" x="500"/></g><g id="k27-10"><use href="#bR" x="552"/></g><g id="k27-11"><use href="#bR" x="604"/></g><g id="k27-12"><use href="#bR" x="656"/></g><g id="k27-13"><use href="#bR" x="708"/></g><g id="k27-14"><use href="#bR" x="760"/></g></g>
<g id="row28" transform="translate(0,1466)"><g id="k28-1"><use href="#wL" x="84"/></g><g id="k28-2"><use href="#wL" x="136"/></g><g id="k28-3"><use href="#wL" x="188"/></g><g id="k28-4"><use href="#gL" x="240"/></g><g id="k28-5"><use href="#gL" x="292"/></g><g id="k28-6"><use href="#gL" x="344"/></g><g id="k28-7"><use href="#bLw" x="396"/></g><g id="k28-8"><use href="#bL" x="448"/></g><g id="k28-9"><use href="#bL" x="500"/></g><g id="k28-10"><use href="#bL" x="552"/></g><g id="k28-11"><use href="#bL" x="604"/></g><g id="k28-12"><use href="#bL" x="656"/></g><g id="k28-13"><use href="#wL" x="708"/></g><g id="k28-14"><use href="#bL" x="760"/></g></g>
<g id="row29" transform="translate(0,1518)"><g id="k29-1"><use href="#wR" x="84"/></g><g id="k29-2"><use href="#wR" x="136"/></g><g id="k29-3"><use href="#wR" x="188"/></g><g id="k29-4"><use href="#bRw" x="240"/></g><g id="k29-5"><use href="#bR" x="292"/></g><g id="k29-6"><use href="#bR" x="344"/></g><g id="k29-7"><use href="#wR" x="396"/></g><g id="k29-8"><use href="#wR" x="448"/></g><g id="k29-9"><use href="#bR" x="500"/></g><g id="k29-10"><use href="#bR" x="552"/></g><g id="k29-11"><use href="#bRw" x="604"/></g><g id="k29-12"><use href="#wR" x="656"/></g><g id="k29-13"><use href="#wR" x="708"/></g><g id="k29-14"><use href="#wR" x="760"/></g></g>
<g id="row30" transform="translate(0,1570)"><g id="k30-1"><use href="#wL" x="84"/></g><g id="k30-2"><use href="#wL" x="136"/></g><g id="k30-3"><use href="#wL" x="188"/></g><g id="k30-4"><use href="#bLw" x="240"/></g><g id="k30-5"><use href="#bL" x="292"/></g><g id="k30-6"><use href="#wL" x="344"/></g><g id="k30-7"><use href="#wL" x="396"/></g><g id="k30-8"><use href="#wL" x="448"/></g><g id="k30-9"><use href="#wL" x="500"/></g><g id="k30-10"><use href="#bLw" x="552"/></g><g id="k30-11"><use href="#wL" x="604"/></g><g id="k30-12"><use href="#wL" x="656"/></g><g id="k30-13"><use href="#wL" x="708"/></g><g id="k30-14"><use href="#wL" x="760"/></g></g>
<g id="row31" transform="translate(0,1622)"><g id="k31-1"><use href="#wR" x="84"/></g><g id="k31-2"><use href="#wR" x="136"/></g><g id="k31-3"><use href="#bRw" x="188"/></g><g id="k31-4"><use href="#bR" x="240"/></g><g id="k31-5"><use href="#bR" x="292"/></g><g id="k31-6"><use href="#wR" x="344"/></g><g id="k31-7"><use href="#wR" x="396"/></g><g id="k31-8"><use href="#wR" x="448"/></g><g id="k31-9"><use href="#wR" x="500"/></g><g id="k31-10"><use href="#bRw" x="552"/></g><g id="k31-11"><use href="#wR" x="604"/></g><g id="k31-12"><use href="#wR" x="656"/></g><g id="k31-13"><use href="#wR" x="708"/></g><g id="k31-14"><use href="#wR" x="760"/></g></g>
<g id="row32" transform="translate(0,1674)"><g id="k32-1"><use href="#bL" x="84"/></g><g id="k32-2"><use href="#bL" x="136"/></g><g id="k32-3"><use href="#bL" x="188"/></g><g id="k32-4"><use href="#gL" x="240"/></g><g id="k32-5"><use href="#gL" x="292"/></g><g id="k32-6"><use href="#gL" x="344"/></g><g id="k32-7"><use href="#wL" x="396"/></g><g id="k32-8"><use href="#wL" x="448"/></g><g id="k32-9"><use href="#wL" x="500"/></g><g id="k32-10"><use href="#bL" x="552"/></g><g id="k32-11"><use href="#bLw" x="604"/></g><g id="k32-12"><use href="#wL" x="656"/></g><g id="k32-13"><use href="#wL" x="708"/></g><g id="k32-14"><use href="#wL" x="760"/></g></g>
<g id="row33" transform="translate(0,1726)"><g id="k33-1"><use href="#bR" x="84"/></g><g id="k33-2"><use href="#bR" x="136"/></g><g id="k33-3"><use href="#gR" x="188"/></g><g id="k33-4"><use href="#gR" x="240"/></g><g id="k33-5"><use href="#gR" x="292"/></g><g id="k33-6"><use href="#bR" x="344"/></g><g id="k33-7"><use href="#wR" x="396"/></g><g id="k33-8"><use href="#wR" x="448"/></g><g id="k33-9"><use href="#bR" x="500"/></g><g id="k33-10"><use href="#bR" x="552"/></g><g id="k33-11"><use href="#bR" x="604"/></g><g id="k33-12"><use href="#wR" x="656"/></g><g id="k33-13"><use href="#wR" x="708"/></g><g id="k33-14"><use href="#bR" x="760"/></g></g>
<g id="row34" transform="translate(0,1778)"><g id="k34-1"><use href="#bL" x="84"/></g><g id="k34-2"><use href="#gL" x="136"/></g><g id="k34-3"><use href="#gL" x="188"/></g><g id="k34-4"><use href="#gL" x="240"/></g><g id="k34-5"><use href="#dL" x="292"/></g><g id="k34-6"><use href="#dL" x="344"/></g><g id="k34-7"><use href="#yL" x="396"/></g><g id="k34-8"><use href="#yL" x="448"/></g><g id="k34-9"><use href="#yL" x="500"/></g><g id="k34-10"><use href="#lL" x="552"/></g><g id="k34-11"><use href="#bL" x="604"/></g><g id="k34-12"><use href="#bL" x="656"/></g><g id="k34-13"><use href="#wL" x="708"/></g><g id="k34-14"><use href="#bL" x="760"/></g></g>
<g id="row35" transform="translate(0,1830)"><g id="k35-1"><use href="#gR" x="84"/></g><g id="k35-2"><use href="#gR" x="136"/></g><g id="k35-3"><use href="#gR" x="188"/></g><g id="k35-4"><use href="#dR" x="240"/></g><g id="k35-5"><use href="#dR" x="292"/></g><g id="k35-6"><use href="#yRw" x="344"/></g><g id="k35-7"><use href="#yRw" x="396"/></g><g id="k35-8"><use href="#yRw" x="448"/></g><g id="k35-9"><use href="#lRw" x="500"/></g><g id="k35-10"><use href="#lRw" x="552"/></g><g id="k35-11"><use href="#lRw" x="604"/></g><g id="k35-12"><use href="#bRw" x="656"/></g><g id="k35-13"><use href="#bRw" x="708"/></g><g id="k35-14"><use href="#bRw" x="760"/></g></g>
<g id="row36" transform="translate(0,1882)"><g id="k36-1"><use href="#bL" x="84"/></g><g id="k36-2"><use href="#gL" x="136"/></g><g id="k36-3"><use href="#gL" x="188"/></g><g id="k36-4"><use href="#gL" x="240"/></g><g id="k36-5"><use href="#dL" x="292"/></g><g id="k36-6"><use href="#yL" x="344"/></g><g id="k36-7"><use href="#yL" x="396"/></g><g id="k36-8"><use href="#yL" x="448"/></g><g id="k36-9"><use href="#lL" x="500"/></g><g id="k36-10"><use href="#lL" x="552"/></g><g id="k36-11"><use href="#bL" x="604"/></g><g id="k36-12"><use href="#bL" x="656"/></g><g id="k36-13"><use href="#bLw" x="708"/></g><g id="k36-14"><use href="#wL" x="760"/></g></g>
<g id="row37" transform="translate(0,1934)"><g id="k37-1"><use href="#bR" x="84"/></g><g id="k37-2"><use href="#bR" x="136"/></g><g id="k37-3"><use href="#gR" x="188"/></g><g id="k37-4"><use href="#gR" x="240"/></g><g id="k37-5"><use href="#gR" x="292"/></g><g id="k37-6"><use href="#bR" x="344"/></g><g id="k37-7"><use href="#bR" x="396"/></g><g id="k37-8"><use href="#bR" x="448"/></g><g id="k37-9"><use href="#bR" x="500"/></g><g id="k37-10"><use href="#bR" x="552"/></g><g id="k37-11"><use href="#bR" x="604"/></g><g id="k37-12"><use href="#bRw" x="656"/></g><g id="k37-13"><use href="#wR" x="708"/></g><g id="k37-14"><use href="#wR" x="760"/></g></g>
<g id="row38" transform="translate(0,1986)"><g id="k38-1"><use href="#bL" x="84"/></g><g id="k38-2"><use href="#bL" x="136"/></g><g id="k38-3"><use href="#bL" x="188"/></g><g id="k38-4"><use href="#gL" x="240"/></g><g id="k38-5"><use href="#gL" x="292"/></g><g id="k38-6"><use href="#gL" x="344"/></g><g id="k38-7"><use href="#bL" x="396"/></g><g id="k38-8"><use href="#bL" x="448"/></g><g id="k38-9"><use href="#bL" x="500"/></g><g id="k38-10"><use href="#bL" x="552"/></g><g id="k38-11"><use href="#bLw" x="604"/></g><g id="k38-12"><use href="#wL" x="656"/></g><g id="k38-13"><use href="#wL" x="708"/></g><g id="k38-14"><use href="#wL" x="760"/></g></g>
<g id="row39" transform="translate(0,2038)"><g id="k39-1"><use href="#bR" x="84"/></g><g id="k39-2"><use href="#bR" x="136"/></g><g id="k39-3"><use href="#bR" x="188"/></g><g id="k39-4"><use href="#bR" x="240"/></g><g id="k39-5"><use href="#bR" x="292"/></g><g id="k39-6"><use href="#bR" x="344"/></g><g id="k39-7"><use href="#bR" x="396"/></g><g id="k39-8"><use href="#bR" x="448"/></g><g id="k39-9"><use href="#bR" x="500"/></g><g id="k39-10"><use href="#bR" x="552"/></g><g id="k39-11"><use href="#wR" x="604"/></g><g id="k39-12"><use href="#wR" x="656"/></g><g id="k39-13"><use href="#wR" x="708"/></g><g id="k39-14"><use href="#wR" x="760"/></g></g>
<g id="row40" transform="translate(0,2090)"><g id="k40-1"><use href="#bL" x="84"/></g><g id="k40-2"><use href="#bL" x="136"/></g><g id="k40-3"><use href="#bL" x="188"/></g><g id="k40-4"><use href="#bL" x="240"/></g><g id="k40-5"><use href="#bL" x="292"/></g><g id="k40-6"><use href="#bL" x="344"/></g><g id="k40-7"><use href="#bL" x="396"/></g><g id="k40-8"><use href="#bL" x="448"/></g><g id="k40-9"><use href="#bL" x="500"/></g><g id="k40-10"><use href="#bL" x="552"/></g><g id="k40-11"><use href="#wL" x="604"/></g><g id="k40-12"><use href="#wL" x="656"/></g><g id="k40-13"><use href="#wL" x="708"/></g><g id="k40-14"><use href="#wL" x="760"/></g></g>
</g>
<text id="watermark" x="421" y="1081" text-anchor="middle" font-family="'Liberation Sans',Arial,sans-serif" font-weight="bold" font-size="15" textLength="154" lengthAdjust="spacingAndGlyphs" fill="#444" stroke="#fff" stroke-width="1.5" paint-order="stroke">BRACELETBOOK.COM</text>
</svg>
